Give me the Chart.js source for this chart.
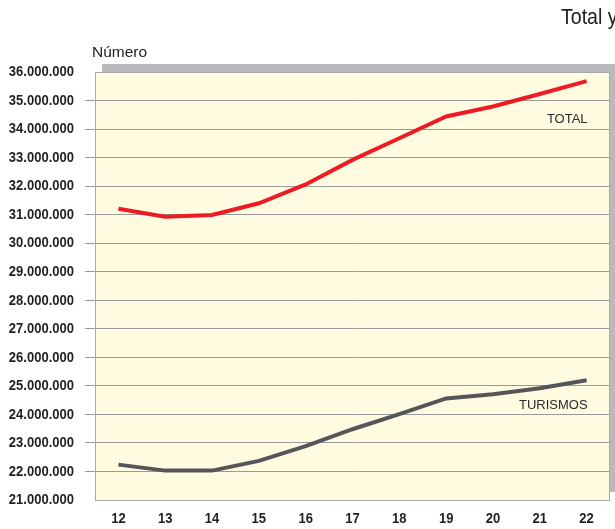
<!DOCTYPE html>
<html>
<head>
<meta charset="utf-8">
<script src="https://cdn.jsdelivr.net/npm/chart.js@4/dist/chart.umd.min.js"></script>
<style>
html,body{margin:0;padding:0;background:#fff;overflow:hidden;}
#wrap{position:relative;width:615px;height:529px;overflow:hidden;}
#title{position:absolute;left:561px;top:4px;font-family:'Liberation Sans',Arial,sans-serif;font-size:22px;color:#222;white-space:nowrap;transform:scaleX(0.89);transform-origin:0 0;}
#unit{position:absolute;left:92px;top:43px;font-family:'Liberation Sans',Arial,sans-serif;font-size:15.5px;color:#222;white-space:nowrap;}
canvas{position:absolute;left:0;top:0;}
</style>
</head>
<body>
<div id="wrap">
<canvas id="c" width="615" height="529"></canvas>
<div id="title">Total y</div>
<div id="unit">Número</div>
</div>
<script>
const years = ['12','13','14','15','16','17','18','19','20','21','22'];
const seriesNames = ['TOTAL','TURISMOS'];
const total = [31210000, 30930000, 30990000, 31400000, 32060000, 32920000, 33680000, 34440000, 34790000, 35230000, 35680000];
const turismos = [22240000, 22030000, 22030000, 22370000, 22890000, 23480000, 24010000, 24560000, 24710000, 24920000, 25200000];
const yTickLabels = ['21.000.000','22.000.000','23.000.000','24.000.000','25.000.000','26.000.000','27.000.000','28.000.000','29.000.000','30.000.000','31.000.000','32.000.000','33.000.000','34.000.000','35.000.000','36.000.000'];
const yMin = 21000000, yMax = 36000000, yStep = 1000000;

const tickFont = "bold 15.5px 'Liberation Sans', Arial, sans-serif";
const narrow = 0.84;

function drawNarrow(ctx, text, x, y, align){
  ctx.save();
  ctx.translate(x, y);
  ctx.scale(narrow, 1);
  ctx.textAlign = align;
  ctx.textBaseline = 'middle';
  ctx.fillText(text, 0, 0);
  ctx.restore();
}

const boxPlugin = {
  id:'box',
  beforeDraw(chart){
    const {ctx, chartArea:a} = chart;
    ctx.save();
    ctx.fillStyle = '#b9babe';
    ctx.fillRect(a.left+7, a.top-8, a.right-a.left+20, a.bottom-a.top);
    ctx.fillStyle = '#fffbe0';
    ctx.fillRect(a.left, a.top, a.right-a.left, a.bottom-a.top);
    ctx.restore();
  },
  beforeDatasetsDraw(chart){
    const {ctx, chartArea:a} = chart;
    ctx.save();
    ctx.strokeStyle = '#a9a9a9';
    ctx.lineWidth = 1;
    ctx.strokeRect(a.left+0.5, a.top+0.5, a.right-a.left-1, a.bottom-a.top);
    ctx.restore();
  },
  afterDatasetsDraw(chart){
    const {ctx, chartArea:a} = chart;
    const xs = chart.scales.x, ys = chart.scales.y;
    ctx.save();
    ctx.font = tickFont;
    ctx.fillStyle = '#231f20';
    ys.ticks.forEach((t, i) => {
      drawNarrow(ctx, yTickLabels[i], ys.right - 21, ys.getPixelForValue(t.value), 'right');
    });
    xs.ticks.forEach((t, i) => {
      drawNarrow(ctx, years[i], xs.getPixelForValue(i), a.bottom + 19, 'center');
    });
    ctx.font = "13px 'Liberation Sans', Arial, sans-serif";
    ctx.fillStyle = '#2a2a2a';
    ctx.textAlign = 'right';
    ctx.textBaseline = 'middle';
    const xr = xs.getPixelForValue(years.length-1) + 1;
    ctx.fillText(seriesNames[0], xr, ys.getPixelForValue(34350000));
    ctx.fillText(seriesNames[1], xr, ys.getPixelForValue(24330000));
    ctx.restore();
  }
};

new Chart(document.getElementById('c'), {
  type:'line',
  data:{
    labels: years,
    datasets:[
      {label:seriesNames[0], data:total, borderColor:'#ec1c24', borderWidth:4, pointRadius:0, tension:0, fill:false},
      {label:seriesNames[1], data:turismos, borderColor:'#55565a', borderWidth:4, pointRadius:0, tension:0, fill:false}
    ]
  },
  options:{
    responsive:false,
    animation:false,
    devicePixelRatio:1,
    layout:{padding:{top:72, right:5, left:0, bottom:0}},
    plugins:{legend:{display:false}, tooltip:{enabled:false}},
    scales:{
      x:{
        type:'category',
        offset:true,
        grid:{display:false, drawTicks:false},
        border:{display:false},
        ticks:{display:false},
        afterFit(s){ s.height = 29; }
      },
      y:{
        min:yMin, max:yMax,
        grid:{
          color:(c)=> (c.tick && (c.tick.value===yMin || c.tick.value===yMax)) ? 'rgba(0,0,0,0)' : '#9a9a9a',
          lineWidth:1,
          tickLength:10
        },
        border:{display:false},
        ticks:{stepSize:yStep, display:false},
        afterFit(s){ s.width = 95; }
      }
    }
  },
  plugins:[boxPlugin]
});
</script>
</body>
</html>
